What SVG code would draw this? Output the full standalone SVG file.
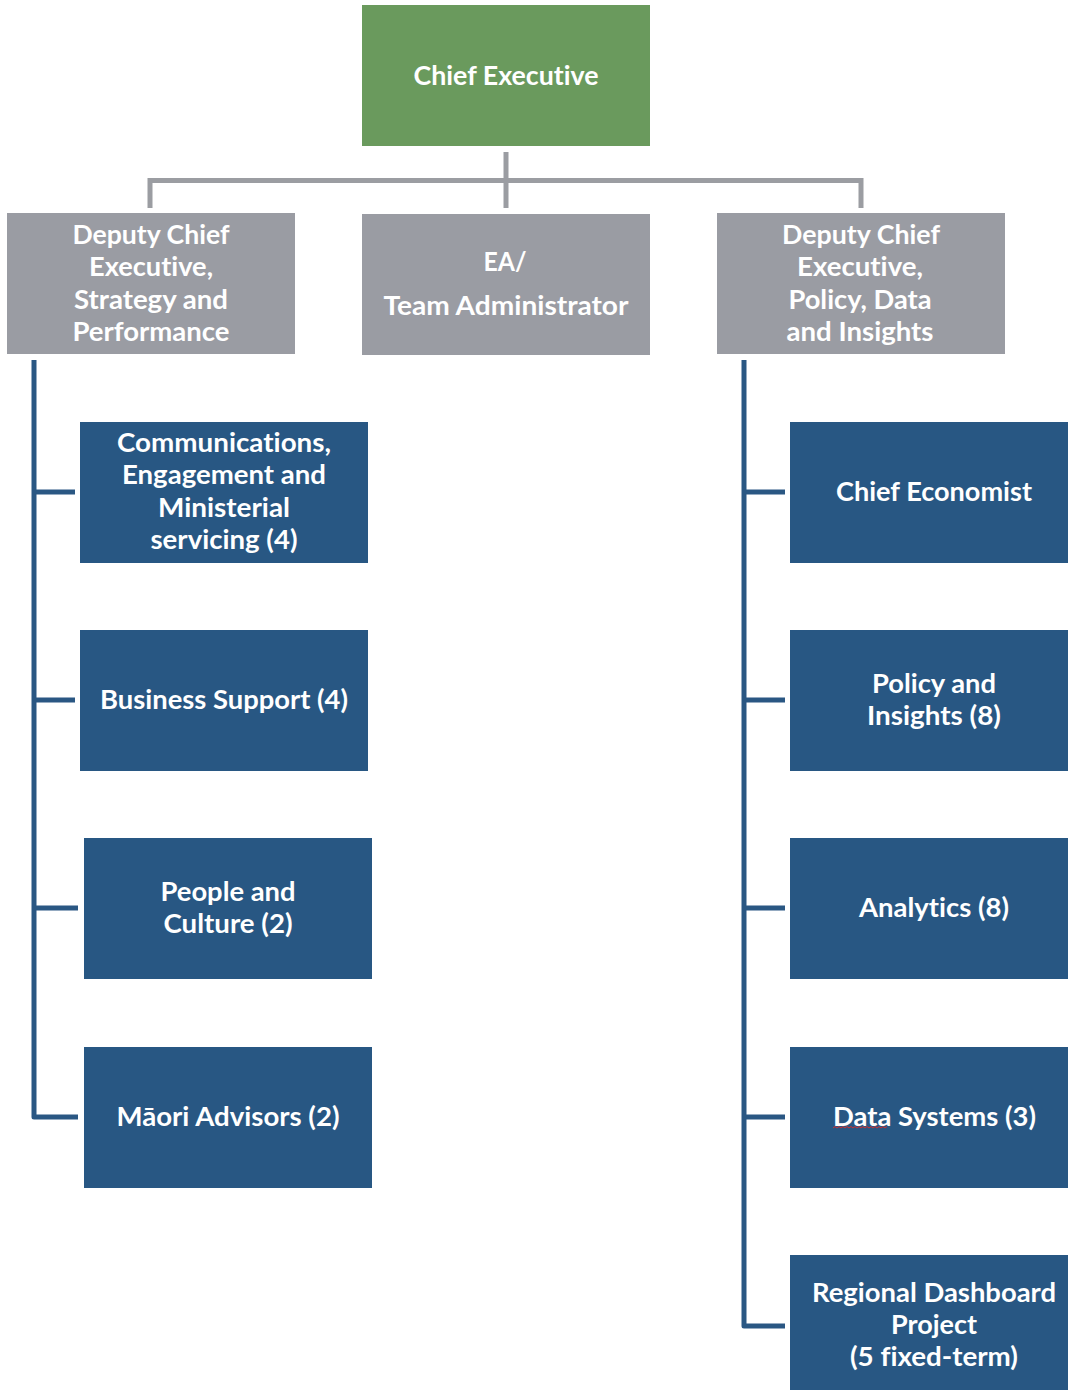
<svg xmlns="http://www.w3.org/2000/svg" width="1068" height="1390" viewBox="0 0 1068 1390">
  <defs>
    <style>
      .exec { fill: #6a9a5d; }
      .deputy { fill: #9a9ca3; }
      .team { fill: #285783; }
      .lbl { font-family: Lato, "Liberation Sans", "DejaVu Sans", sans-serif; font-weight: 700; font-size: 26px; fill: #ffffff; text-anchor: middle; font-variant-ligatures: none; font-feature-settings: "liga" 0, "clig" 0; }
      .link-grey { fill: none; stroke: #9b9da2; stroke-width: 5; stroke-linejoin: miter; }
      .link-blue { fill: none; stroke: #2a5783; stroke-width: 5; stroke-linejoin: round; }
      .spell { fill: none; stroke: #d03030; stroke-width: 1; }
    </style>
  </defs>
  <rect width="1068" height="1390" fill="#ffffff"/>

  <!-- connectors -->
  <g id="connectors">
    <path class="link-grey" d="M506,152 V208"/>
    <path class="link-grey" d="M150,208 V180.5 H861 V208"/>
    <path class="link-blue" d="M34,360 V1117 H78"/>
    <path class="link-blue" d="M34,492 H75 M34,700 H75 M34,908 H78"/>
    <path class="link-blue" d="M744,360 V1326 H785"/>
    <path class="link-blue" d="M744,492 H785 M744,700 H785 M744,908 H785 M744,1117 H785"/>
  </g>

  <!-- top level -->
  <g id="chief-executive">
    <rect class="exec" x="362" y="5" width="288" height="141"/>
    <text class="lbl" x="506" y="85" textLength="185" lengthAdjust="spacingAndGlyphs">Chief Executive</text>
  </g>

  <!-- second level -->
  <g id="dce-strategy">
    <rect class="deputy" x="7" y="213" width="288" height="141"/>
    <text class="lbl" x="151" y="244" textLength="157" lengthAdjust="spacingAndGlyphs">Deputy Chief</text>
    <text class="lbl" x="151" y="276" textLength="124" lengthAdjust="spacingAndGlyphs">Executive,</text>
    <text class="lbl" x="151" y="309" textLength="154" lengthAdjust="spacingAndGlyphs">Strategy and</text>
    <text class="lbl" x="151" y="341" textLength="157" lengthAdjust="spacingAndGlyphs">Performance</text>
  </g>
  <g id="ea-team-admin">
    <rect class="deputy" x="362" y="214" width="288" height="141"/>
    <text class="lbl" x="505" y="271" textLength="43" lengthAdjust="spacingAndGlyphs">EA/</text>
    <text class="lbl" x="506" y="315" textLength="245" lengthAdjust="spacingAndGlyphs">Team Administrator</text>
  </g>
  <g id="dce-policy">
    <rect class="deputy" x="717" y="213" width="288" height="141"/>
    <text class="lbl" x="861" y="244" textLength="158" lengthAdjust="spacingAndGlyphs">Deputy Chief</text>
    <text class="lbl" x="860" y="276" textLength="126" lengthAdjust="spacingAndGlyphs">Executive,</text>
    <text class="lbl" x="860" y="309" textLength="143" lengthAdjust="spacingAndGlyphs">Policy, Data</text>
    <text class="lbl" x="860" y="341" textLength="147" lengthAdjust="spacingAndGlyphs">and Insights</text>
  </g>

  <!-- strategy and performance teams -->
  <g id="comms-engagement">
    <rect class="team" x="80" y="422" width="288" height="141"/>
    <text class="lbl" x="224" y="452" textLength="214" lengthAdjust="spacingAndGlyphs">Communications,</text>
    <text class="lbl" x="224" y="484" textLength="204" lengthAdjust="spacingAndGlyphs">Engagement and</text>
    <text class="lbl" x="224" y="517" textLength="132" lengthAdjust="spacingAndGlyphs">Ministerial</text>
    <text class="lbl" x="224" y="549" textLength="147" lengthAdjust="spacingAndGlyphs">servicing (4)</text>
  </g>
  <g id="business-support">
    <rect class="team" x="80" y="630" width="288" height="141"/>
    <text class="lbl" x="224" y="709" textLength="248" lengthAdjust="spacingAndGlyphs">Business Support (4)</text>
  </g>
  <g id="people-culture">
    <rect class="team" x="84" y="838" width="288" height="141"/>
    <text class="lbl" x="228" y="901" textLength="135" lengthAdjust="spacingAndGlyphs">People and</text>
    <text class="lbl" x="228" y="933" textLength="129" lengthAdjust="spacingAndGlyphs">Culture (2)</text>
  </g>
  <g id="maori-advisors">
    <rect class="team" x="84" y="1047" width="288" height="141"/>
    <text class="lbl" x="228" y="1126" textLength="223" lengthAdjust="spacingAndGlyphs">Māori Advisors (2)</text>
  </g>

  <!-- policy, data and insights teams -->
  <g id="chief-economist">
    <rect class="team" x="790" y="422" width="288" height="141"/>
    <text class="lbl" x="934" y="501" textLength="196" lengthAdjust="spacingAndGlyphs">Chief Economist</text>
  </g>
  <g id="policy-insights">
    <rect class="team" x="790" y="630" width="288" height="141"/>
    <text class="lbl" x="934" y="693" textLength="124" lengthAdjust="spacingAndGlyphs">Policy and</text>
    <text class="lbl" x="934" y="725" textLength="134" lengthAdjust="spacingAndGlyphs">Insights (8)</text>
  </g>
  <g id="analytics">
    <rect class="team" x="790" y="838" width="288" height="141"/>
    <text class="lbl" x="934" y="917" textLength="150" lengthAdjust="spacingAndGlyphs">Analytics (8)</text>
  </g>
  <g id="data-systems">
    <rect class="team" x="790" y="1047" width="288" height="141"/>
    <text class="lbl" x="934.5" y="1126" textLength="203" lengthAdjust="spacingAndGlyphs">Data Systems (3)</text>
    <path class="spell" d="M833,1128 l2,-1.5 l2,1.5 l2,-1.5 l2,1.5 l2,-1.5 l2,1.5 l2,-1.5 l2,1.5 l2,-1.5 l2,1.5 l2,-1.5 l2,1.5 l2,-1.5 l2,1.5 l2,-1.5 l2,1.5 l2,-1.5 l2,1.5 l2,-1.5 l2,1.5 l2,-1.5 l2,1.5 l2,-1.5 l2,1.5 l2,-1.5 l2,1.5 l2,-1.5"/>
  </g>
  <g id="regional-dashboard">
    <rect class="team" x="790" y="1255" width="288" height="141"/>
    <text class="lbl" x="934" y="1302" textLength="244" lengthAdjust="spacingAndGlyphs">Regional Dashboard</text>
    <text class="lbl" x="934" y="1334" textLength="86" lengthAdjust="spacingAndGlyphs">Project</text>
    <text class="lbl" x="934" y="1366" textLength="168" lengthAdjust="spacingAndGlyphs">(5 fixed-term)</text>
  </g>
</svg>
